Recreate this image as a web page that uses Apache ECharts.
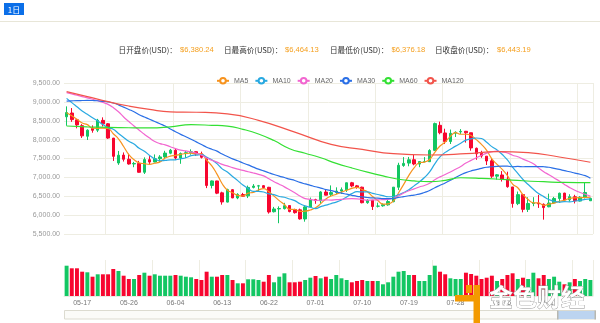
<!DOCTYPE html>
<html><head><meta charset="utf-8">
<script src="https://cdn.jsdelivr.net/npm/echarts@6/dist/echarts.min.js"></script>
<style>html,body{margin:0;padding:0;background:#fff}#c{width:600px;height:323px}</style>
</head><body><div id="c"></div>
<script>
const dates = [
'05-14','05-15','05-16','05-17','05-18','05-19','05-20','05-21','05-22','05-23','05-24','05-25','05-26','05-27','05-28','05-29','05-30','05-31',
'06-01','06-02','06-03','06-04','06-05','06-06','06-07','06-08','06-09','06-10','06-11','06-12','06-13','06-14','06-15','06-16','06-17','06-18','06-19','06-20','06-21','06-22','06-23','06-24','06-25','06-26','06-27','06-28','06-29','06-30',
'07-01','07-02','07-03','07-04','07-05','07-06','07-07','07-08','07-09','07-10','07-11','07-12','07-13','07-14','07-15','07-16','07-17','07-18','07-19','07-20','07-21','07-22','07-23','07-24','07-25','07-26','07-27','07-28','07-29','07-30','07-31',
'08-01','08-02','08-03','08-04','08-05','08-06','08-07','08-08','08-09','08-10','08-11','08-12','08-13','08-14','08-15','08-16','08-17','08-18','08-19','08-20','08-21','08-22','08-23'];

// [open, close, low, high]
const ohlc = [
[8605,8716,8367,8881],[8705,8530,8471,8836],[8525,8390,8300,8540],[8370,8100,8045,8411],[8090,8250,7990,8274],
[8300,8247,8183,8378],[8250,8513,8199,8550],[8510,8418,8349,8590],[8420,8041,8019,8441],[8040,7557,7435,8045],
[7380,7587,7331,7700],[7590,7480,7420,7661],[7480,7355,7338,7623],[7355,7368,7269,7410],[7370,7135,7124,7437],
[7135,7472,7090,7531],[7470,7406,7335,7563],[7406,7494,7401,7608],[7494,7541,7397,7589],[7541,7643,7479,7704],
[7640,7720,7613,7753],[7720,7514,7467,7754],[7514,7633,7360,7660],[7630,7653,7514,7698],[7650,7678,7600,7743],
[7680,7625,7567,7690],[7625,7531,7500,7682],[7530,6786,6716,7540],[6786,6906,6708,6919],[6905,6582,6556,6910],
[6590,6349,6277,6620],[6345,6675,6336,6700],[6674,6456,6450,6690],[6455,6550,6422,6580],[6546,6499,6480,6589],
[6510,6734,6452,6782],[6735,6769,6708,6822],[6770,6776,6633,6800],[6780,6729,6722,6796],[6737,6083,6040,6749],
[6090,6163,6070,6218],[6165,6174,5786,6233],[6171,6250,6150,6326],[6253,6094,6074,6257],[6150,6065,6040,6170],
[6140,5900,5880,6173],[5898,6218,5826,6261],[6214,6404,6200,6465],[6411,6385,6300,6433],[6380,6614,6304,6635],
[6612,6529,6522,6683],[6550,6597,6502,6787],[6599,6639,6554,6736],[6638,6673,6562,6733],[6669,6857,6615,6860],
[6857,6773,6738,6880],[6775,6741,6700,6799],[6740,6329,6312,6754],[6330,6394,6300,6418],[6396,6228,6136,6398],
[6236,6238,6203,6330],[6247,6276,6223,6310],[6272,6360,6250,6401],[6357,6741,6340,6743],[6739,7321,6663,7387],
[7315,7370,7280,7537],[7378,7466,7294,7541],[7467,7354,7320,7597],[7352,7419,7270,7425],[7417,7418,7400,7538],
[7415,7711,7409,7747],[7716,8424,7698,8451],[8379,8182,8141,8477],[8176,7951,7883,8289],[7950,8166,7884,8267],
[8170,8193,8070,8220],[8205,8218,8151,8279],[8221,8180,7921,8230],[8182,7780,7707,8181],[7770,7625,7465,7790],
[7635,7567,7519,7704],[7562,7434,7328,7562],[7438,7032,6984,7497],[7032,7068,6940,7088],[7063,6951,6890,7167],
[6955,6753,6726,7150],[6747,6306,6197,6747],[6305,6543,6265,6625],[6545,6153,6074,6557],[6152,6309,6083,6474],
[6308,6322,6236,6475],[6318,6297,6191,6537],[6287,6200,5880,6310],[6221,6320,6209,6568],[6325,6442,6303,6483],
[6441,6580,6325,6596],[6583,6402,6359,6592],[6405,6488,6357,6554],[6487,6377,6310,6538],[6372,6475,6360,6502],
[6478,6600,6440,6860],[6380.24,6443.19,6376.18,6464.13]];

const volumes = [
30300,27700,27700,24300,23700,19300,21700,21700,21700,27000,
25000,20300,17000,17000,21000,23300,20300,21700,20300,20300,
20300,21000,20300,19300,18700,17000,16000,24300,19300,19300,
21000,21000,16000,12700,12700,16700,16700,16000,14300,21000,
13700,19300,22700,13700,13700,14300,16000,18300,20000,17700,
19300,17000,21000,17700,16000,13700,15000,16000,15000,15000,
15000,11700,13700,19300,24300,25000,21000,21000,15000,15000,
21000,30300,24300,21700,17700,17000,17000,23300,22000,20300,
17000,18300,20300,15000,17000,21000,22700,17000,18300,17000,
23300,17700,21000,17000,19300,14300,11700,13700,17000,15000,
17000,16000];

const ma5 = [8714,8630,8537,8440,8397,8303,8300,8306,8294,8155,
8023,7817,7604,7469,7385,7362,7347,7375,7410,7511,
7561,7582,7610,7633,7640,7621,7624,7455,7305,7086,
6831,6660,6594,6522,6506,6583,6602,6666,6701,6618,
6504,6385,6280,6153,6149,6097,6105,6136,6194,6304,
6430,6506,6553,6610,6659,6708,6737,6675,6619,6493,
6386,6293,6299,6369,6587,6814,7052,7250,7386,7405,
7474,7665,7831,7937,8087,8183,8142,8142,8107,7999,
7874,7717,7488,7345,7210,7048,6822,6724,6541,6413,
6327,6325,6256,6290,6316,6368,6389,6446,6458,6464,
6468,6477];

const ma10 = [9093,8980,8870,8760,8670,8580,8493,8400,8317,8276,
8163,8058,7955,7882,7770,7693,7582,7490,7440,7448,
7461,7465,7493,7521,7575,7591,7603,7532,7469,7363,
7226,7142,7024,6914,6796,6707,6631,6630,6612,6562,
6543,6493,6473,6427,6384,6300,6245,6208,6174,6227,
6263,6306,6345,6402,6482,6569,6621,6614,6615,6576,
6547,6515,6487,6494,6540,6600,6672,6775,6877,6996,
7144,7358,7541,7662,7746,7828,7904,7986,8022,8043,
8029,7930,7815,7726,7605,7461,7270,7106,6943,6812,
6687,6573,6490,6415,6365,6347,6357,6351,6374,6390,
6418,6433];

const ma20 = [9244,9210,9175,9140,9105,9070,9030,8985,8934,8850,
8740,8600,8480,8360,8250,8140,8040,7950,7895,7862,
7812,7762,7724,7701,7673,7642,7593,7511,7454,7405,
7344,7303,7258,7217,7186,7149,7117,7081,7040,6962,
6885,6818,6748,6670,6590,6504,6438,6419,6393,6394,
6403,6399,6409,6415,6433,6435,6433,6411,6394,6401,
6405,6410,6416,6448,6511,6584,6647,6694,6746,6786,
6845,6937,7014,7078,7143,7214,7288,7381,7450,7520,
7586,7644,7678,7694,7675,7645,7587,7546,7483,7427,
7358,7252,7152,7071,6985,6904,6813,6729,6658,6601,
6553,6503];

const ma30 = [9022,9028,9033,9036,9038,9036,9030,9015,9000,8970,
8920,8860,8800,8740,8660,8600,8540,8480,8420,8360,
8280,8210,8140,8075,8010,7940,7870,7800,7745,7696,
7617,7555,7491,7439,7380,7330,7272,7217,7173,7124,
7077,7033,6996,6954,6918,6866,6826,6790,6751,6717,
6677,6647,6614,6581,6554,6525,6499,6484,6467,6455,
6451,6438,6435,6441,6468,6490,6513,6532,6555,6600,
6651,6726,6791,6853,6923,6999,7066,7125,7171,7205,
7240,7268,7281,7294,7297,7296,7282,7289,7281,7284,
7286,7287,7282,7268,7238,7212,7177,7148,7113,7082,
7045,6979];

// [category index, value]
const ma60 = [[0,8361],[4,8340],[8,8325],[12,8315],[16,8310],[20,8340],[24,8395],[28,8380],[31,8360],[34,8273],
[37,8150],[40,7975],[43,7760],[46,7640],[49,7520],[52,7370],[55,7250],[58,7140],[61,7040],[64,6950],
[67,6905],[70,6885],[73,6920],[76,6990],[80,6975],[84,6945],[88,6910],[92,6885],[96,6865],[101,6860]];
const ma120 = [[0,9270],[4,9140],[8,9005],[12,8890],[16,8800],[20,8735],[25,8725],[31,8680],[37,8510],[44,8200],
[51,7874],[57,7743],[63,7628],[70,7593],[77,7628],[83,7681],[89,7655],[95,7540],[101,7400]];

const maNames = ['MA5','MA10','MA20','MA30','MA60','MA120'];
const maColors = ['#f7931e','#29a9e1','#f266d0','#2a6fe6','#33e033','#f2544b'];
const headerLabels = ['日开盘价(USD)：','日最高价(USD)：','日最低价(USD)：','日收盘价(USD)：'];
const headerValues = ['$6,380.24','$6,464.13','$6,376.18','$6,443.19'];

const UP = '#13c663', DOWN = '#f7062f';
const chart = echarts.init(document.getElementById('c'));
const volData = volumes.map((v, i) => ({value: v, itemStyle: {color: ohlc[i][1] >= ohlc[i][0] ? UP : DOWN}}));
const maData = [ma5, ma10, ma20, ma30, ma60, ma120];

const labelX = [118.6, 224, 330, 435];
const valueX = [180, 285, 391.5, 497];
const graphics = [
  {type:'rect', shape:{x:4,y:3,width:20,height:12}, style:{fill:'#0b6fe8'}},
  {type:'text', x:14, y:9.5, style:{text:'1日', fill:'#fff', font:'8px "Noto Sans CJK SC"', align:'center', verticalAlign:'middle'}},
  {type:'line', shape:{x1:0,y1:21.5,x2:600,y2:21.5}, style:{stroke:'#e8e6d8', lineWidth:1}},
  {type:'rect', shape:{x:64.5,y:310.5,width:531,height:8.5}, style:{fill:'#fbfbf8', stroke:'#dcdbd0', lineWidth:1}},
  {type:'rect', shape:{x:558,y:311,width:37.5,height:8}, style:{fill:'#bcd4f0'}},
  {type:'rect', shape:{x:594.5,y:310.5,width:1.5,height:9}, style:{fill:'#b8b8b0'}},
  {type:'rect', shape:{x:557,y:310.5,width:1.5,height:9}, style:{fill:'#b8b8b0'}},
  {type:'rect', shape:{x:466,y:285,width:6,height:8}, style:{fill:'#f39a00'}, z:100},
  {type:'rect', shape:{x:473.5,y:285,width:6.5,height:38}, style:{fill:'#f39a00'}, z:100},
  {type:'rect', shape:{x:455,y:295,width:24,height:6.5}, style:{fill:'#f39a00'}, z:100},
  {type:'text', x:537, y:297, z:100, style:{text:'金色财经', fill:'#ffffff', stroke:'#8f8f8f', lineWidth:0.8,
     font:'bold 24px "Noto Sans CJK SC"', align:'center', verticalAlign:'middle'}}
];
headerLabels.forEach((t, k) => {
  graphics.push({type:'text', x:labelX[k], y:50, style:{text:t, fill:'#333', font:'7.6px "Noto Sans CJK SC"', verticalAlign:'middle'}});
  graphics.push({type:'text', x:valueX[k], y:50, style:{text:headerValues[k], fill:'#f5a020', font:'7.6px "Liberation Sans", "Noto Sans CJK SC"', verticalAlign:'middle'}});
});

const series = [
  {type:'candlestick', name:'K', data: ohlc.map(d => [d[0], d[1], d[2], d[3]]), xAxisIndex:0, yAxisIndex:0,
   barWidth:3, z:2,
   itemStyle:{color:UP, color0:DOWN, borderColor:UP, borderColor0:DOWN, borderWidth:1}},
  {type:'bar', name:'Volume', data: volData, xAxisIndex:1, yAxisIndex:1, barWidth:'76%'}
];
maNames.forEach((n, k) => {
  series.push({type:'line', name:n, data: maData[k], xAxisIndex:0, yAxisIndex:0, smooth:true,
    showSymbol:false, symbol:'emptyCircle', symbolSize:6, z:3,
    lineStyle:{width:1.2, color:maColors[k]}, itemStyle:{color:maColors[k]}});
});

chart.setOption({
  animation:false,
  textStyle:{fontFamily:'"Liberation Sans", "Noto Sans CJK SC", sans-serif'},
  legend:{data:maNames, left:211, top:72, itemWidth:12, itemHeight:7, itemGap:6,
    textStyle:{fontSize:7, color:'#666'}},
  grid:[{left:64, right:7, top:83, height:151}, {left:64, right:7, top:260, height:36}],
  xAxis:[
    {type:'category', data:dates, gridIndex:0, boundaryGap:true,
     axisLine:{show:false}, axisTick:{show:false}, axisLabel:{show:false},
     splitLine:{show:true, interval:(i) => i % 13 === 8, lineStyle:{color:'#eeede2'}}},
    {type:'category', data:dates, gridIndex:1, boundaryGap:true,
     axisLine:{show:true, lineStyle:{color:'#ecebe3'}}, axisTick:{show:false},
     axisLabel:{interval:(i) => i % 9 === 3, fontSize:7, color:'#777', margin:4},
     splitLine:{show:true, interval:(i) => i % 9 === 8, lineStyle:{color:'#eeede2'}}}
  ],
  yAxis:[
    {type:'value', gridIndex:0, min:5500, max:9500, interval:500, scale:true,
     axisLine:{show:false}, axisTick:{show:false},
     axisLabel:{fontSize:7, color:'#999', margin:4,
       formatter:(v) => v.toLocaleString('en-US', {minimumFractionDigits:2, maximumFractionDigits:2})},
     splitLine:{lineStyle:{color:'#eeede2'}}},
    {type:'value', gridIndex:1, min:0, max:36000,
     axisLine:{show:false}, axisTick:{show:false}, axisLabel:{show:false}, splitLine:{show:false}}
  ],
  graphic: graphics,
  series: series
});
</script>
</body></html>
